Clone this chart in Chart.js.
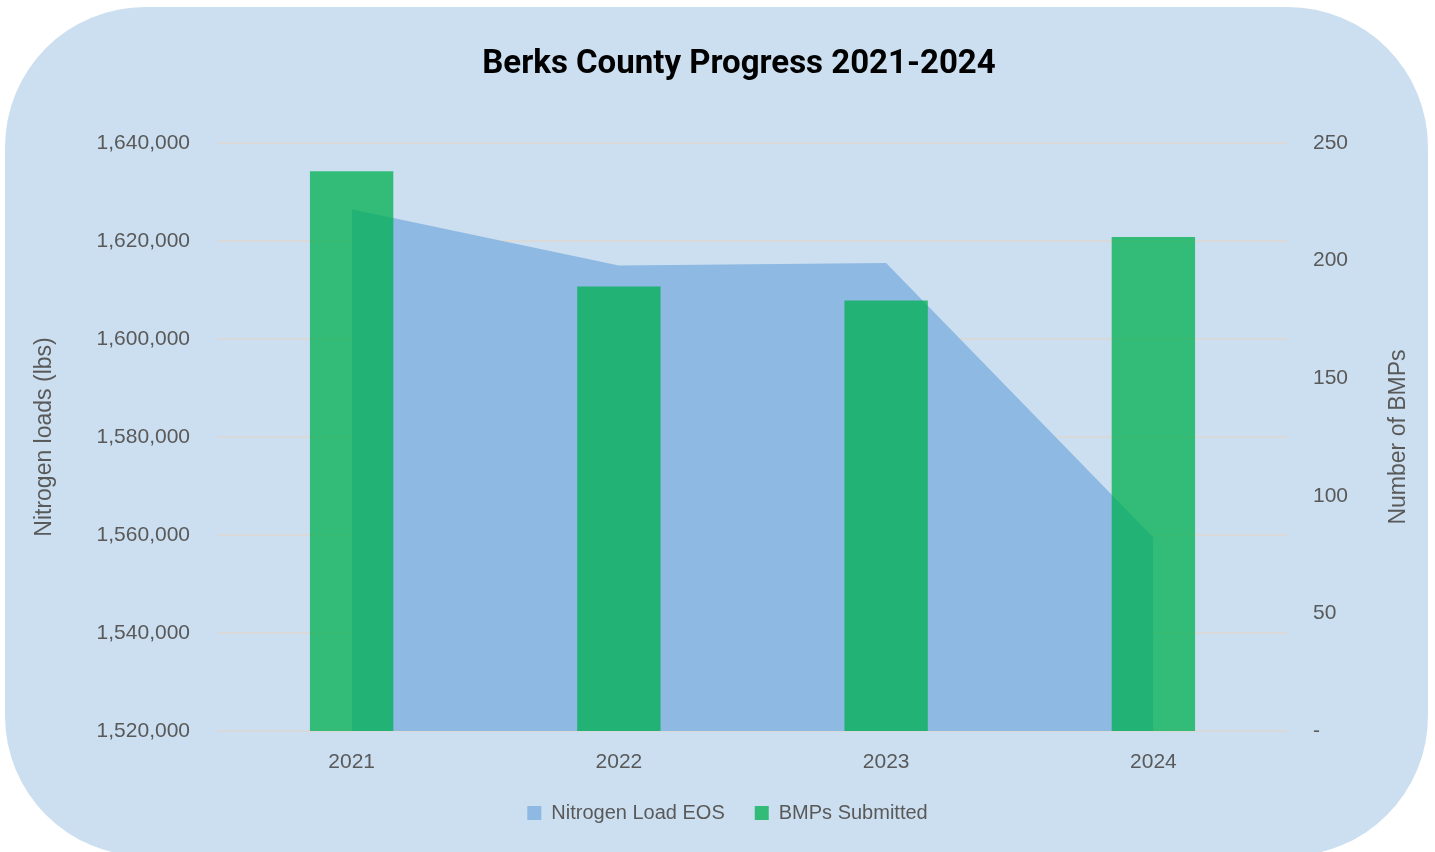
<!DOCTYPE html>
<html>
<head>
<meta charset="utf-8">
<script src="https://cdn.jsdelivr.net/npm/chart.js@4.4.1/dist/chart.umd.min.js"></script>
<style>body{margin:0;background:#fff}</style>
</head>
<body>
<canvas id="progressChart" width="1435" height="852"></canvas>
<script>
// data
const years = ['2021', '2022', '2023', '2024'];
const nitrogenLoad = [1626500, 1615000, 1615500, 1559500];
const bmpsSubmitted = [238, 189, 183, 210];
const loadRange = [1520000, 1640000, 20000];
const bmpRange = [0, 250, 50];

const textGrey = '#595959';
Chart.defaults.font.family = '"Liberation Sans", Arial, sans-serif';
Chart.defaults.color = textGrey;

// rounded light-blue panel behind everything
const panelBackground = {
    id: 'panelBackground',
    beforeDraw(chart) {
        const ctx = chart.ctx;
        ctx.save();
        ctx.fillStyle = '#CCDFF0';
        ctx.beginPath();
        ctx.roundRect(5, 7, 1423, 849, 140);
        ctx.fill();
        ctx.restore();
    }
};

// title sits a bit right of the canvas centre in Excel, and the secondary
// axis title reads bottom-to-top, so both are drawn here
const extraText = {
    id: 'extraText',
    afterDraw(chart) {
        const ctx = chart.ctx;
        const area = chart.chartArea;
        ctx.save();
        ctx.fillStyle = '#000';
        ctx.font = 'bold 33px Roboto';
        ctx.textAlign = 'center';
        ctx.textBaseline = 'middle';
        ctx.fillText('Berks County Progress 2021-2024', 739, 65);

        ctx.translate(1399, (area.top + area.bottom) / 2);
        ctx.rotate(-Math.PI / 2);
        ctx.font = '23px "Liberation Sans"';
        ctx.fillStyle = textGrey;
        ctx.fillText('Number of BMPs', 0, 0);
        ctx.restore();
    }
};

const ctx = document.getElementById('progressChart').getContext('2d');
new Chart(ctx, {
    data: {
        labels: years,
        datasets: [
            {
                type: 'line',
                label: 'Nitrogen Load EOS',
                data: nitrogenLoad,
                yAxisID: 'y',
                backgroundColor: '#8DB9E3',
                borderColor: '#8DB9E3',
                borderWidth: 0,
                pointRadius: 0,
                tension: 0,
                fill: 'start',
                order: 2
            },
            {
                type: 'bar',
                label: 'BMPs Submitted',
                data: bmpsSubmitted,
                yAxisID: 'y1',
                backgroundColor: 'rgba(0, 176, 80, 0.75)',
                borderWidth: 0,
                barPercentage: 0.312,
                categoryPercentage: 1,
                order: 1
            }
        ]
    },
    options: {
        responsive: false,
        devicePixelRatio: 1,
        animation: false,
        layout: { padding: { left: 20, right: 0, top: 143, bottom: 19 } },
        plugins: {
            title: { display: false },
            legend: {
                position: 'bottom',
                labels: {
                    boxWidth: 14,
                    boxHeight: 14,
                    padding: 30,
                    color: textGrey,
                    font: { size: 20 },
                    sort: (a, b) => a.datasetIndex - b.datasetIndex
                }
            },
            tooltip: { enabled: false }
        },
        scales: {
            x: {
                grid: { display: false },
                border: { display: false },
                ticks: { padding: 11, font: { size: 21 }, color: textGrey },
                afterFit(scale) { scale.height = 42; }
            },
            y: {
                position: 'left',
                min: loadRange[0],
                max: loadRange[1],
                ticks: {
                    stepSize: loadRange[2],
                    padding: 28,
                    font: { size: 21 },
                    color: textGrey,
                    callback: v => v.toLocaleString('en-US')
                },
                grid: { color: '#D9D9D9', lineWidth: 2, drawTicks: false },
                border: { display: false },
                title: {
                    display: true,
                    text: 'Nitrogen loads (lbs)',
                    color: textGrey,
                    font: { size: 23 },
                    padding: { top: 11, bottom: 0 }
                },
                afterFit(scale) { scale.width = 198; }
            },
            y1: {
                position: 'right',
                min: bmpRange[0],
                max: bmpRange[1],
                ticks: {
                    stepSize: bmpRange[2],
                    padding: 26,
                    font: { size: 21 },
                    color: textGrey,
                    callback: v => v === 0 ? '-' : v
                },
                grid: { display: false, drawTicks: false },
                border: { display: false },
                afterFit(scale) { scale.width = 148; }
            }
        }
    },
    plugins: [panelBackground, extraText]
});
</script>
</body>
</html>
